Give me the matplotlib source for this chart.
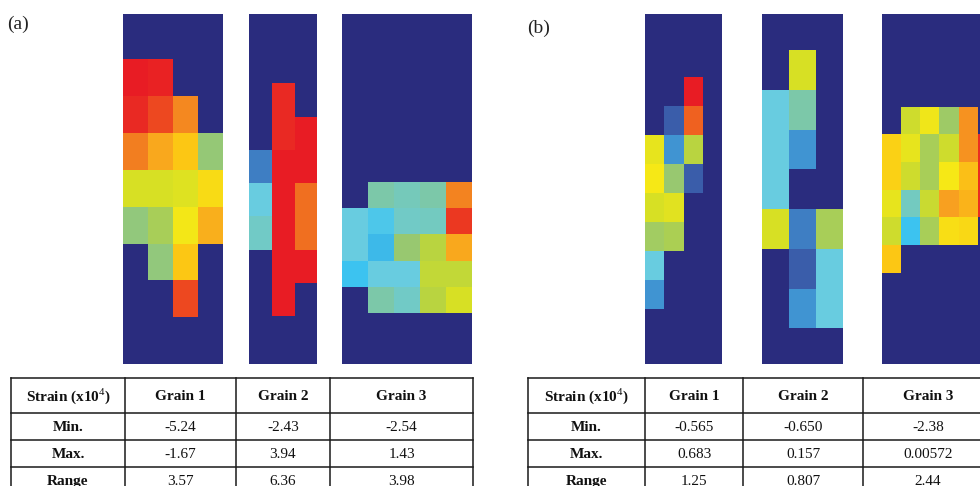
import numpy as np
import matplotlib
matplotlib.use('Agg')
import matplotlib.pyplot as plt
from matplotlib.colors import LinearSegmentedColormap

nan = np.nan

# strain level of every cell, on the 0..13 colour scale (nan = outside the grain)
grain1_a = [[13.0, 12.8, nan, nan],
            [12.6, 11.8, 10.5, nan],
            [10.7, 9.8, 9.0, 4.9],
            [7.0, 7.0, 7.2, 8.4],
            [4.8, 5.5, 7.9, 9.6],
            [nan, 4.8, 9.0, nan],
            [nan, nan, 11.8, nan]]
grain2_a = [[nan, 12.6, nan],
            [nan, 12.6, 13.0],
            [0.7, 13.0, 13.0],
            [3.0, 13.0, 11.0],
            [3.5, 13.0, 11.0],
            [nan, 13.0, 13.0],
            [nan, 13.0, nan]]
grain3_a = [[nan, 4.0, 3.7, 4.0, 10.6],
            [3.0, 2.4, 3.5, 3.6, 12.2],
            [3.0, 1.8, 5.0, 6.0, 9.8],
            [2.0, 3.0, 3.0, 6.3, 6.3],
            [nan, 4.0, 3.5, 6.0, 7.0]]

grain1_b = [[nan, nan, 13.0, nan],
            [nan, 0.1, 11.3, nan],
            [7.5, 1.1, 6.0, nan],
            [8.0, 5.0, 0.1, nan],
            [7.0, 7.3, nan, nan],
            [5.3, 5.6, nan, nan],
            [3.0, nan, nan, nan],
            [1.1, nan, nan, nan]]
grain2_b = [[nan, 7.0, nan],
            [3.0, 4.0, nan],
            [3.0, 1.1, nan],
            [3.0, nan, nan],
            [7.0, 0.7, 5.5],
            [nan, 0.1, 3.0],
            [nan, 1.1, 3.0]]
grain3_b = [[nan, 6.7, 7.8, 5.2, 10.3, nan],
            [8.7, 7.5, 5.5, 6.7, 10.3, 12.5],
            [8.7, 6.7, 5.5, 8.0, 9.2, 12.5],
            [7.5, 3.6, 6.5, 10.0, 9.5, 12.5],
            [6.7, 2.0, 5.5, 8.3, 8.5, nan],
            [9.0, nan, nan, nan, nan, nan]]

col_labels = ['Strain (x10$^4$)', 'Grain 1', 'Grain 2', 'Grain 3']
row_labels = ['Min.', 'Max.', 'Range']
table_a = [['-5.24', '-2.43', '-2.54'],
           ['-1.67', '3.94', '1.43'],
           ['3.57', '6.36', '3.98']]
table_b = [['-0.565', '-0.650', '-2.38'],
           ['0.683', '0.157', '0.00572'],
           ['1.25', '0.807', '2.44']]

W, H = 980, 486
NAVY = '#2a2c7e'
cmap = LinearSegmentedColormap.from_list('soft_jet', [
    '#3a5aa8', '#4090d0', '#3cc4f0', '#68cce0', '#7cc8a8', '#98c870', '#b8d440',
    '#d8e024', '#f6e816', '#fcc814', '#f8a020', '#f07020', '#ec4020', '#e81c24'])

plt.rcParams['font.family'] = ['Liberation Serif', 'DejaVu Serif']
plt.rcParams['mathtext.fontset'] = 'custom'
plt.rcParams['mathtext.rm'] = 'Liberation Serif'
plt.rcParams['mathtext.bf'] = 'Liberation Serif:bold'

fig = plt.figure(figsize=(W / 100, H / 100), dpi=100)


def draw_grain(values, box, grid):
    # box = axes (left, top, right, bottom) px, grid = cell block (left, top, right, bottom) px
    data = np.ma.masked_invalid(np.array(values, dtype=float))
    nr, nc = data.shape
    l, t, r, b = box
    gl, gt, gr, gb = grid
    ax = fig.add_axes([l / W, 1 - b / H, (r - l) / W, (b - t) / H])
    ax.set_facecolor(NAVY)
    ax.pcolormesh(np.arange(nc + 1), np.arange(nr + 1), data, cmap=cmap, vmin=0, vmax=13)
    cw = (gr - gl) / nc
    rh = (gb - gt) / nr
    ax.set_xlim((l - gl) / cw, (r - gl) / cw)
    ax.set_ylim((b - gt) / rh, (t - gt) / rh)
    ax.set_xticks([])
    ax.set_yticks([])
    for s in ax.spines.values():
        s.set_visible(False)


draw_grain(grain1_a, (122.7, 14, 223.3, 364), (122.7, 59, 223.3, 317.3))
draw_grain(grain2_a, (249, 14, 317.3, 364), (249, 83.3, 317.3, 316))
draw_grain(grain3_a, (341.7, 14, 472.3, 364), (341.7, 181.7, 472.3, 313.3))
draw_grain(grain1_b, (644.7, 14, 721.7, 364), (644.7, 77.3, 722.7, 309.3))
draw_grain(grain2_b, (762.3, 14, 842.7, 364), (762.3, 50, 842.7, 328.3))
draw_grain(grain3_b, (881.7, 14, 1002, 364), (881.7, 106.7, 996.9, 272.7))

# overlay in pixel coordinates for labels and tables
ov = fig.add_axes([0, 0, 1, 1])
ov.set_xlim(0, W)
ov.set_ylim(H, 0)
ov.axis('off')
ov.patch.set_alpha(0)

ov.text(7, 24, '(a)', fontsize=14, ha='left', va='center', color='#222222')
ov.text(527, 28, '(b)', fontsize=14, ha='left', va='center', color='#222222')


def draw_table(cells, xs):
    ys = [378, 412.7, 440, 466.7, 494]
    lw = 1.1
    for x in xs:
        ov.plot([x, x], [ys[0], ys[-1]], color='#1a1a1a', lw=lw, clip_on=False)
    for y in ys:
        ov.plot([xs[0], xs[-1]], [y, y], color='#1a1a1a', lw=lw, clip_on=False)
    for j, lab in enumerate(col_labels):
        ov.text((xs[j] + xs[j + 1]) / 2, (ys[0] + ys[1]) / 2 + 1, lab, fontsize=11,
                fontweight='bold', ha='center', va='center', color='#111111')
    for i, lab in enumerate(row_labels):
        yc = (ys[i + 1] + ys[i + 2]) / 2 + 1
        ov.text((xs[0] + xs[1]) / 2, yc, lab, fontsize=11, fontweight='bold',
                ha='center', va='center', color='#111111')
        for j, val in enumerate(cells[i]):
            ov.text((xs[j + 1] + xs[j + 2]) / 2, yc, val, fontsize=11,
                    ha='center', va='center', color='#111111')


draw_table(table_a, [11, 125, 235.7, 330, 473.3])
draw_table(table_b, [528.3, 645, 743.3, 862.7, 993])

fig.savefig('out.png', dpi=100)
